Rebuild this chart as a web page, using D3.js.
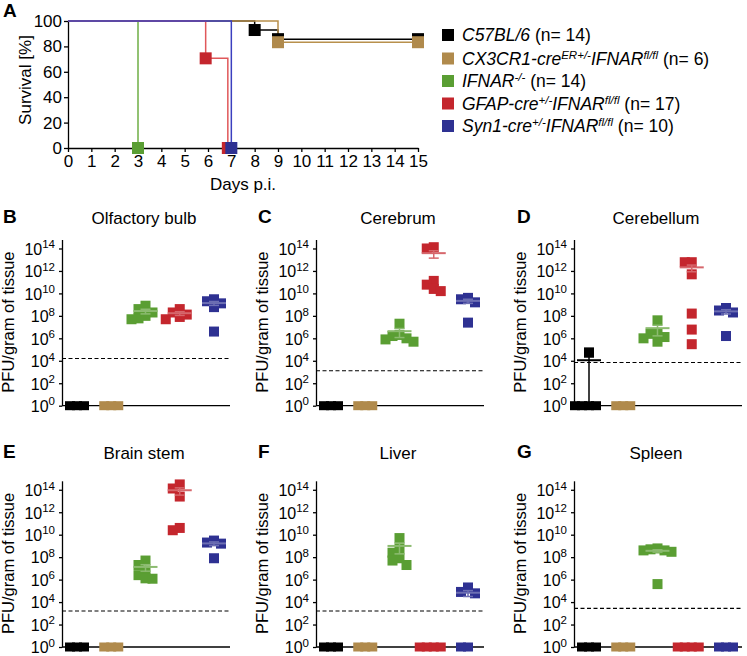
<!DOCTYPE html>
<html><head><meta charset="utf-8">
<script src="https://cdn.jsdelivr.net/npm/d3@7"></script>
<style>body{margin:0;background:#fff}svg{display:block}</style>
</head><body><svg id="c" width="747" height="656"></svg>
<script>
// ---------- DATA ----------
const groupColors = ["#000000", "#b08a4c", "#5a9e33", "#c4262d", "#2e3192"];
const survLineColors = ["#000000", "#b8904c", "#6fae45", "#e0585a", "#3b3fbf"];

const legendLabels = [
  [["C57BL/6", "i"], [" (n= 14)", "n"]],
  [["CX3CR1-cre", "i"], ["ER+/-", "s"], ["IFNAR", "i"], ["fl/fl", "s"], [" (n= 6)", "n"]],
  [["IFNAR", "i"], ["-/-", "s"], [" (n= 14)", "n"]],
  [["GFAP-cre", "i"], ["+/-", "s"], ["IFNAR", "i"], ["fl/fl", "s"], [" (n= 17)", "n"]],
  [["Syn1-cre", "i"], ["+/-", "s"], ["IFNAR", "i"], ["fl/fl", "s"], [" (n= 10)", "n"]]
];

// Kaplan-Meier survival (days p.i., % survival)
const c57Days = [0, 8, 9, 15],    c57Surv = [100, 92.9, 85.7, 85.7];
const cx3Days = [0, 9, 15],       cx3Surv = [100, 83.3, 83.3];
const ifnarDays = [0, 3],         ifnarSurv = [100, 0];
const gfapDays = [0, 5.9, 6.85],  gfapSurv = [100, 70.6, 0];
const syn1Days = [0, 7],          syn1Surv = [100, 0];
const dayTicks = d3.range(0, 16);
const survivalTicks = [0, 20, 40, 60, 80, 100];

// PFU/gram of tissue per group: [C57BL/6, CX3CR1, IFNAR-/-, GFAP, Syn1]
const olfactoryBulb = [[0,0,0],[0,0,0],[8e8,4e8,2e8,1e8,6e7,5e7],[4e8,2e8,1.3e8,8e7,5e7],[3e9,2e9,1.3e9,6e8,4e6]];
const cerebrum      = [[0,0,0],[0,0,0],[2e7,2e6,1.6e6,1e6,8e5,5e5],[1.3e14,1e14,1.3e11,6e10,2.5e10,1.6e10],[4e9,3e9,1.6e9,2.5e7]];
const cerebellum    = [[5.6e4,0,0,0,0],[0,0,0],[4e7,3e6,2.5e6,1.3e6,1e6,5e5],[6e12,6e12,5e11,1.6e8,6e6,3e5],[5e8,3e8,2e8,1.6e6]];
const brainStem     = [[0,0,0],[0,0,0],[5e7,2e7,6e6,2.5e6,1.3e6,1.2e6],[3e14,1.3e14,2.5e13,4e10,2.5e10],[3e9,2e9,1.6e9,8e7]];
const liver         = [[0,0,0],[0,0,0],[5e9,6e8,2.5e8,8e7,5e7,2e7],[0,0,0,0],[2e5,8e4,6e4,0,0]];
const spleen        = [[0,0,0],[0,0,0],[6e8,5e8,4e8,4e8,3e8,4e5],[0,0,0,0],[0,0,0]];
const panelData = [olfactoryBulb, cerebrum, cerebellum, brainStem, liver, spleen];
const panelTitles = ["Olfactory bulb", "Cerebrum", "Cerebellum", "Brain stem", "Liver", "Spleen"];
const panelLetters = ["B", "C", "D", "E", "F", "G"];
const detectionLimits = [1.6e4, 1.3e3, 7e3, 1.6e3, 1.6e3, 2.8e3];
const yTickExponents = [0, 2, 4, 6, 8, 10, 12, 14];

// ---------- DRAWING ----------
const FONT = "'Liberation Sans', Arial, Helvetica, sans-serif";
const svg = d3.select("#c").attr("font-family", FONT);
const lighten = (c, t) => d3.interpolateRgb(c, "#fff")(t);

function styleAxis(g, fs) {
  g.attr("font-family", FONT);
  g.selectAll("path,line").attr("stroke", "#000").attr("stroke-width", 1.3);
  g.selectAll("text").attr("font-size", fs).attr("fill", "#000");
}

// ----- Panel A -----
const xA = d3.scaleLinear().domain([0, 15]).range([68, 418]);
const yA = d3.scaleLinear().domain([0, 100]).range([148, 21]);
const gA = svg.append("g");
gA.append("g").attr("transform", `translate(0,${yA(0)})`)
  .call(d3.axisBottom(xA).tickValues(dayTicks).tickFormat(d3.format("d")).tickSize(4).tickSizeOuter(0).tickPadding(3))
  .call(g => styleAxis(g, 17));
gA.append("g").attr("transform", `translate(${xA(0)},0)`)
  .call(d3.axisLeft(yA).tickValues(survivalTicks).tickSize(4).tickSizeOuter(0).tickPadding(2))
  .call(g => styleAxis(g, 17));
gA.append("text").attr("x", 3).attr("y", 17).attr("font-weight", "bold").attr("font-size", 19).text("A");
gA.append("text").attr("x", (xA(0) + xA(15)) / 2).attr("y", 190).attr("text-anchor", "middle").attr("font-size", 17).text("Days p.i.");
gA.append("text").attr("transform", "translate(31,80) rotate(-90)").attr("text-anchor", "middle").attr("font-size", 17).text("Survival [%]");

const survival = [[c57Days, c57Surv], [cx3Days, cx3Surv], [ifnarDays, ifnarSurv], [gfapDays, gfapSurv], [syn1Days, syn1Surv]];
const stepLine = d3.line().x(d => xA(d[0])).y(d => yA(d[1])).curve(d3.curveStepAfter);
survival.forEach(([days, surv], i) => {
  const pts = days.map((d, j) => [d, surv[j]]);
  gA.append("path").attr("d", stepLine(pts)).attr("fill", "none")
    .attr("stroke", survLineColors[i]).attr("stroke-width", 1.5);
});
survival.forEach(([days, surv], i) => {
  const pts = days.map((d, j) => [d, surv[j]]).slice(1);
  gA.selectAll(null).data(pts).enter().append("rect")
    .attr("x", d => xA(d[0]) - 6).attr("y", d => yA(d[1]) - 6)
    .attr("width", 12).attr("height", 12).attr("fill", groupColors[i]);
});

// legend
const legend = svg.append("g");
const legendY = d3.scalePoint().domain(d3.range(5)).range([35, 125]);
legendLabels.forEach((parts, i) => {
  const cy = legendY(i) + (i === 0 ? 0 : 1);
  legend.append("rect").attr("x", 442).attr("y", cy - 6).attr("width", 12).attr("height", 12).attr("fill", groupColors[i]);
  const t = legend.append("text").attr("x", 462).attr("y", cy + 6).attr("font-size", 17.5);
  let shift = 0;
  parts.forEach(([txt, kind]) => {
    const target = kind === "s" ? -6 : 0;
    const ts = t.append("tspan").attr("dy", target - shift).text(txt);
    shift = target;
    if (kind !== "n") ts.attr("font-style", "italic");
    if (kind === "s") ts.attr("font-size", 11.5);
  });
});

// ----- Panels B-G -----
const colAxisX = [62, 316, 574];
const rowBase = [405.7, 647];
const perDecade = 11.23;
const plotW = 168;
const SQ = 10;

panelData.forEach((data, p) => {
  const col = p % 3, row = Math.floor(p / 3);
  const ax = colAxisX[col], base = rowBase[row];
  const g = svg.append("g");
  const y = d3.scaleLog().domain([1, 10 ** 14.8]).range([base, base - 14.8 * perDecade]);
  const x = d3.scalePoint().domain(d3.range(5)).range([ax + 15, ax + 152]);

  // y axis
  g.append("g").attr("transform", `translate(${ax},0)`)
    .call(d3.axisLeft(y).tickValues(yTickExponents.map(e => 10 ** e)).tickSize(3).tickSizeOuter(0).tickPadding(4).tickFormat(() => ""))
    .call(ga => styleAxis(ga, 16))
    .call(ga => ga.selectAll(".tick text").each(function (d) {
      const t = d3.select(this).attr("dy", "0.36em");
      t.append("tspan").text("10");
      t.append("tspan").attr("dy", -6.5).attr("font-size", 11.5).text(Math.round(Math.log10(d)));
    }));
  // x baseline
  g.append("line").attr("x1", ax).attr("x2", ax + plotW).attr("y1", base).attr("y2", base)
    .attr("stroke", "#000").attr("stroke-width", 1.3);
  // detection limit
  g.append("line").attr("x1", ax).attr("x2", ax + plotW)
    .attr("y1", y(detectionLimits[p])).attr("y2", y(detectionLimits[p]))
    .attr("stroke", "#000").attr("stroke-width", 1.2).attr("stroke-dasharray", "4,2.5");

  // points (simple beeswarm)
  const offsets = [0, -7, 7, -14, 14, -21, 21];
  data.forEach((vals, gi) => {
    const cx = x(gi);
    const placed = [];
    const pts = vals.map(v => ({ v, py: y(v > 0 ? v : 1) })).sort((a, b) => a.py - b.py);
    pts.forEach(pt => {
      for (const off of offsets) {
        const px = cx + off;
        if (placed.every(q => Math.abs(q.px - px) >= 7 || Math.abs(q.py - pt.py) >= 7)) { pt.px = px; break; }
      }
      if (pt.px === undefined) pt.px = cx;
      placed.push(pt);
    });
    const h = SQ - 1;
    g.selectAll(null).data(placed).enter().append("rect")
      .attr("x", d => d.px - SQ / 2).attr("y", d => d.py - (d.v > 0 ? SQ : h) / 2)
      .attr("width", SQ).attr("height", d => d.v > 0 ? SQ : h).attr("fill", groupColors[gi]);

    // mean +/- SEM
    if (vals.some(v => v > 0)) {
      const m = d3.mean(vals), sem = d3.deviation(vals) / Math.sqrt(vals.length);
      const lc = gi === 0 ? "#000" : lighten(groupColors[gi], 0.3);
      const yTop = y(m + sem), yBot = y(Math.max(m - sem, 1));
      g.append("line").attr("x1", cx).attr("x2", cx).attr("y1", yTop).attr("y2", yBot).attr("stroke", lc).attr("stroke-width", 1.5);
      [yTop, yBot].forEach(yy => g.append("line").attr("x1", cx - 5).attr("x2", cx + 5).attr("y1", yy).attr("y2", yy).attr("stroke", lc).attr("stroke-width", 1.5));
      g.append("line").attr("x1", cx - 12).attr("x2", cx + 12).attr("y1", y(m)).attr("y2", y(m)).attr("stroke", lc).attr("stroke-width", 2);
    }
  });

  // titles
  const letterX = [3, 258, 517][col];
  const titleY = [223, 458][row];
  g.append("text").attr("x", letterX).attr("y", titleY).attr("font-weight", "bold").attr("font-size", 19).text(panelLetters[p]);
  g.append("text").attr("x", ax + 82).attr("y", titleY + 1).attr("text-anchor", "middle").attr("font-size", 17).text(panelTitles[p]);
  g.append("text").attr("transform", `translate(${ax - 48},${base - 7 * perDecade - 5}) rotate(-90)`)
    .attr("text-anchor", "middle").attr("font-size", 16.5).text("PFU/gram of tissue");
});
</script>
</body></html>
